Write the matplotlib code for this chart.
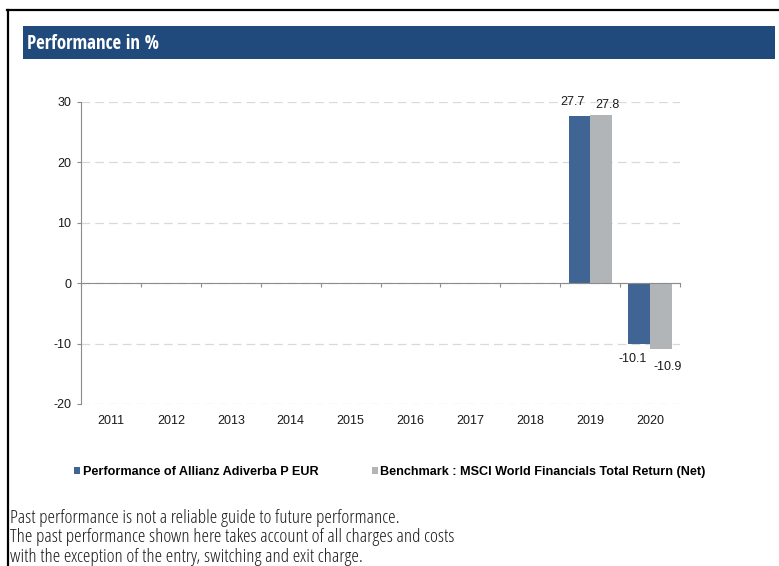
"""Performance in % bar chart (fund vs benchmark, calendar years)."""

import matplotlib.pyplot as plt
import numpy as np
from matplotlib import font_manager
from matplotlib.font_manager import FontProperties
from matplotlib.lines import Line2D
from matplotlib.patches import Rectangle

years = ["2011", "2012", "2013", "2014", "2015", "2016", "2017", "2018", "2019", "2020"]
fund_perf = [np.nan, np.nan, np.nan, np.nan, np.nan, np.nan, np.nan, np.nan, 27.7, -10.1]
bench_perf = [np.nan, np.nan, np.nan, np.nan, np.nan, np.nan, np.nan, np.nan, 27.8, -10.9]
fund_name = "Performance of Allianz Adiverba P EUR"
bench_name = "Benchmark : MSCI World Financials Total Return (Net)"
title = "Performance in %"
footer_lines = [
    "Past performance is not a reliable guide to future performance.",
    "The past performance shown here takes account of all charges and costs",
    "with the exception of the entry, switching and exit charge.",
]

FUND_COLOR = "#406494"
BENCH_COLOR = "#b2b5b8"
HEADER_COLOR = "#214a7c"
AXIS_GRAY = "#8c8c8c"


def _weight(f):
    w = f.weight
    if isinstance(w, str):
        return font_manager.weight_dict.get(w, 400)
    return w


def _is_narrow(f):
    s = str(f.stretch).lower()
    return ("condensed" in s or "narrow" in s or "Condensed" in f.name or "Narrow" in f.name
            or (s.isdigit() and int(s) < 500))


def _pick(lo, hi, prefer_light=False):
    cands = [f for f in font_manager.fontManager.ttflist
             if _is_narrow(f) and lo <= _weight(f) <= hi and f.style == "normal"]
    # Open Sans condensed first, then anything else; stable order by file name
    cands.sort(key=lambda f: ("Open Sans" not in f.name,
                              _weight(f) if prefer_light else -_weight(f), f.fname))
    return cands[0] if cands else None


narrow_regular = _pick(300, 400, prefer_light=True)
narrow_bold = _pick(600, 900)

plt.rcParams["font.family"] = ["Liberation Sans", "DejaVu Sans"]
plt.rcParams["axes.unicode_minus"] = False

W, H = 779, 566
fig = plt.figure(figsize=(W / 100, H / 100), dpi=100)
renderer = fig.canvas.get_renderer()


def fit_width(text_artist, target_px):
    """Scale a text's font size so it spans the wanted width in pixels."""
    w = text_artist.get_window_extent(renderer).width
    text_artist.set_fontsize(text_artist.get_fontsize() * target_px / w)


# frame lines (top and left) and the blue header band
fig.add_artist(Line2D([7 / W, 1], [1 - 9.5 / H, 1 - 9.5 / H], color="black", lw=1.6))
fig.add_artist(Line2D([7.5 / W, 7.5 / W], [0, 1 - 9.5 / H], color="black", lw=1.6))
fig.add_artist(Rectangle((23 / W, 1 - 59 / H), (775 - 23) / W, 33 / H,
                         transform=fig.transFigure, color=HEADER_COLOR, lw=0))
if narrow_bold is not None:
    title_font = FontProperties(fname=narrow_bold.fname, size=13)
else:
    title_font = FontProperties(family="Liberation Sans", weight="bold", size=11)
title_text = fig.text(27 / W, 1 - 44 / H, title, color="white", fontproperties=title_font,
                      va="center", ha="left")
fit_width(title_text, 131)

ax = fig.add_axes([81 / W, 1 - 404 / H, (680 - 81) / W, (404 - 102) / H])

x = np.arange(len(years))
width = 0.36
fund_bars = ax.bar(x - width / 2, fund_perf, width, color=FUND_COLOR, label=fund_name, zorder=2)
bench_bars = ax.bar(x + width / 2, bench_perf, width, color=BENCH_COLOR, label=bench_name, zorder=2)

# value labels
for bars, vals, dx in [(fund_bars, fund_perf, -5), (bench_bars, bench_perf, 5)]:
    for rect, v in zip(bars, vals):
        if np.isnan(v):
            continue
        cx = rect.get_x() + rect.get_width() / 2
        if v >= 0:
            dy = 6 if bars is fund_bars else 3
            ax.annotate(f"{v:.1f}", (cx, v), xytext=(dx, dy), textcoords="offset points",
                        ha="center", va="bottom", fontsize=9, color="#1a1a1a")
        else:
            dy = -6 if bars is fund_bars else -8.5
            ax.annotate(f"{v:.1f}", (cx, v), xytext=(dx, dy), textcoords="offset points",
                        ha="center", va="top", fontsize=9, color="#1a1a1a")

ax.set_xlim(-0.5, len(years) - 0.5)
ax.set_ylim(-20, 30)
ax.set_yticks([-20, -10, 0, 10, 20, 30])
ax.yaxis.grid(True, color="#d9d9d9", linestyle=(0, (7, 4)), lw=0.9, zorder=0)
ax.set_axisbelow(True)

for side in ["top", "right"]:
    ax.spines[side].set_visible(False)
ax.spines["left"].set_color(AXIS_GRAY)
ax.spines["bottom"].set_color(AXIS_GRAY)
ax.spines["bottom"].set_position(("data", 0))
ax.spines["bottom"].set_zorder(3)

ax.set_xticks(np.arange(len(years) + 1) - 0.5)
ax.tick_params(axis="x", labelbottom=False, length=3, color=AXIS_GRAY, direction="out")
ax.tick_params(axis="y", length=3, color=AXIS_GRAY, labelsize=9, labelcolor="#1a1a1a", pad=4)

# year labels along the bottom of the plot area
sec = ax.secondary_xaxis("bottom")
sec.set_xticks(x, labels=years)
sec.tick_params(length=0, pad=8, labelsize=9, labelcolor="#1a1a1a")
sec.spines["bottom"].set_visible(False)

fig.legend(handles=[fund_bars, bench_bars], loc="center left",
           bbox_to_anchor=(74 / W, 1 - 472 / H), ncol=2, frameon=False,
           prop={"size": 9.1, "weight": "bold"}, handlelength=0.5, handleheight=0.5,
           handletextpad=0.2, columnspacing=4.2, borderaxespad=0, borderpad=0)

if narrow_regular is not None:
    footer_font = FontProperties(fname=narrow_regular.fname, size=10.5)
else:
    footer_font = FontProperties(family="Liberation Sans", size=9.6)
footer_texts = [fig.text(10 / W, 1 - (518 + 19.5 * i) / H, line, fontproperties=footer_font,
                         color="#1a1a1a", va="center", ha="left")
                for i, line in enumerate(footer_lines)]
# size all footer lines from the width of the first one
w0 = footer_texts[0].get_window_extent(renderer).width
for t in footer_texts:
    t.set_fontsize(t.get_fontsize() * 388 / w0)

fig.savefig("out.png", dpi=100)
